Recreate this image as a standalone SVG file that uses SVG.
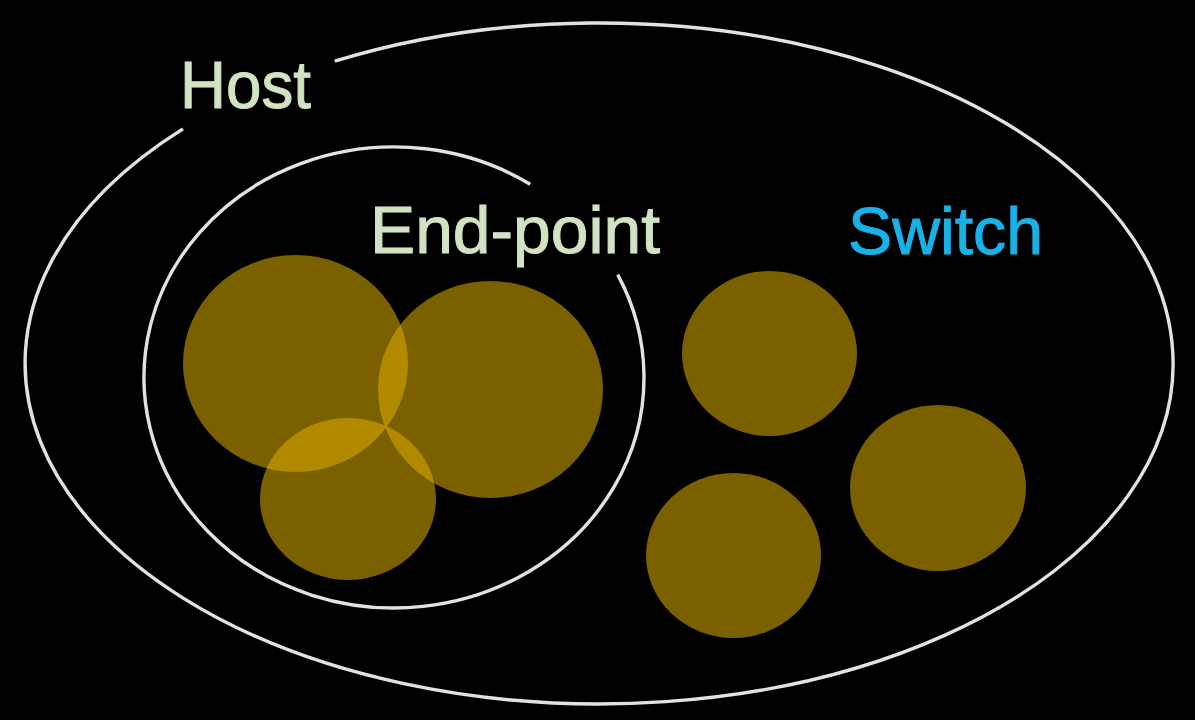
<svg xmlns="http://www.w3.org/2000/svg" width="1195" height="720" viewBox="0 0 1195 720">
  <style>
    .ring { fill: none; stroke: #e2e2e2; stroke-width: 3.4; }
    .blob { fill: #dbab00; fill-opacity: 0.56; }
    .lbl { font-family: "Liberation Sans", Arial, sans-serif; font-size: 66px; stroke-width: 1; }
    .green { fill: #d0e3c2; stroke: #d0e3c2; }
    .blue { fill: #18b2e8; stroke: #18b2e8; }
  </style>
  <rect width="1195" height="720" fill="#000"/>
  <g id="connectors"></g>
  <g id="host">
    <path class="ring" d="M334.8,61.2 A574,340.5 0 1 1 183,128.9"/>
    <text class="lbl green" x="180" y="108" textLength="131" lengthAdjust="spacingAndGlyphs">Host</text>
  </g>
  <g id="endpoint">
    <path class="ring" d="M617.7,274.6 A250,230.5 0 1 1 530.2,184.2"/>
    <text class="lbl green" x="370" y="253" textLength="290" lengthAdjust="spacingAndGlyphs">End-point</text>
  </g>
  <g id="switch">
    <text class="lbl blue" x="848" y="254" textLength="195" lengthAdjust="spacingAndGlyphs">Switch</text>
  </g>
  <g id="ep1"><ellipse class="blob" cx="295.5" cy="363.5" rx="112.5" ry="108.5"/></g>
  <g id="ep2"><ellipse class="blob" cx="490.5" cy="389.5" rx="112.5" ry="108.5"/></g>
  <g id="ep3"><ellipse class="blob" cx="348" cy="499" rx="88" ry="81"/></g>
  <g id="sw1"><ellipse class="blob" cx="769.5" cy="353.5" rx="87.5" ry="82.5"/></g>
  <g id="sw2"><ellipse class="blob" cx="733.5" cy="555.5" rx="87.5" ry="82.5"/></g>
  <g id="sw3"><ellipse class="blob" cx="938" cy="488" rx="88" ry="83"/></g>
</svg>
